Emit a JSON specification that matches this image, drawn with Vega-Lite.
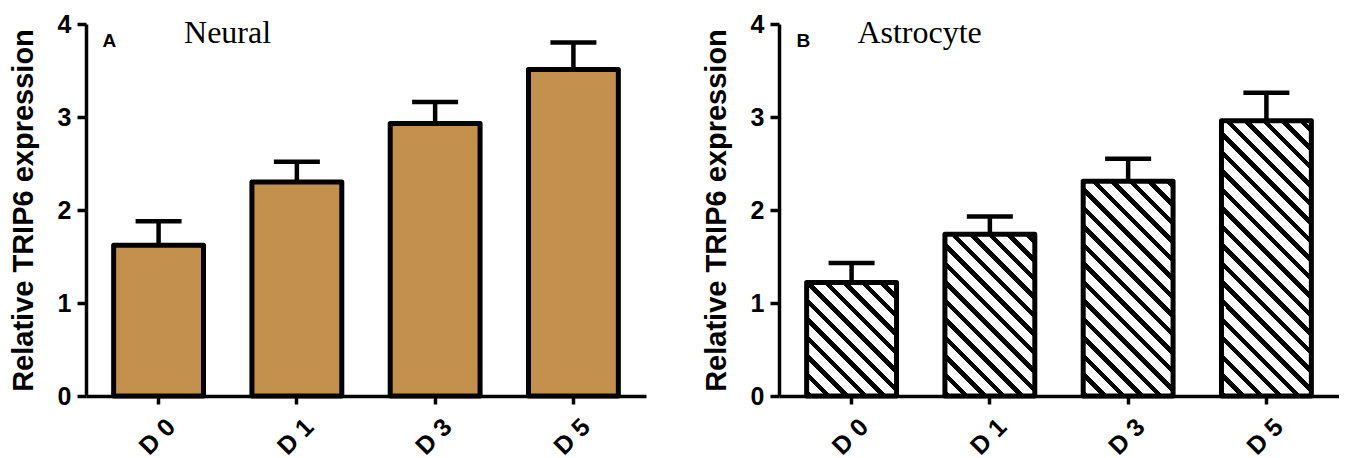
{
  "$schema": "https://vega.github.io/schema/vega-lite/v6.json",
  "padding": {"left": 9, "top": 12, "right": 0, "bottom": 0},
  "autosize": {"type": "pad"},
  "background": "white",
  "config": {
    "font": "Liberation Sans",
    "view": {"stroke": null},
    "axis": {"domainColor": "black", "domainWidth": 3.5, "tickColor": "black", "tickWidth": 3.5, "labelColor": "black", "labelFont": "Liberation Sans", "labelFontWeight": "bold", "titleFont": "Liberation Sans", "titleFontWeight": "bold", "titleColor": "black", "grid": false},
    "axisY": {"labelFontSize": 25, "tickSize": 9, "labelPadding": 6, "titleFontSize": 29, "titlePadding": 19, "format": "d"},
    "axisX": {"labelFontSize": 25, "labelAngle": -45, "tickSize": 8, "labelPadding": 10, "labelOffset": 4}
  },
  "datasets": {
    "neural": [
      {"day": "D 0", "mean": 1.62, "upper": 1.88},
      {"day": "D 1", "mean": 2.30, "upper": 2.52},
      {"day": "D 3", "mean": 2.93, "upper": 3.16},
      {"day": "D 5", "mean": 3.51, "upper": 3.80}
    ],
    "astro": [
      {"day": "D 0", "mean": 1.22, "upper": 1.43},
      {"day": "D 1", "mean": 1.74, "upper": 1.93},
      {"day": "D 3", "mean": 2.31, "upper": 2.55},
      {"day": "D 5", "mean": 2.96, "upper": 3.26}
    ]
  },
  "bounds": "flush",
  "spacing": 133,
  "hconcat": [
    {
      "width": 560,
      "height": 372,
      "data": {"name": "neural"},
      "encoding": {
        "x": {"field": "day", "type": "nominal", "sort": null, "scale": {"paddingInner": 0.35, "paddingOuter": 0.2}, "axis": {"title": null}}
      },
      "layer": [
        {
          "mark": {"type": "rule", "color": "black", "strokeWidth": 4.5},
          "encoding": {
            "y": {"field": "mean", "type": "quantitative", "title": "Relative TRIP6 expression", "scale": {"domain": [0, 4]}},
            "y2": {"field": "upper"}
          }
        },
        {
          "mark": {"type": "tick", "color": "black", "size": 46, "thickness": 4.5, "opacity": 1},
          "encoding": {
            "y": {"field": "upper", "type": "quantitative", "title": "Relative TRIP6 expression"}
          }
        },
        {
          "mark": {"type": "bar", "fill": "#C4904E", "stroke": "black", "strokeWidth": 5, "strokeJoin": "round"},
          "encoding": {
            "y": {"field": "mean", "type": "quantitative", "title": "Relative TRIP6 expression", "scale": {"domain": [0, 4]}, "axis": {"values": [0, 1, 2, 3, 4], "format": "d", "labelFontSize": 25, "title": "Relative TRIP6 expression"}}
          }
        },
        {
          "data": {"values": [{}]},
          "mark": {"type": "text", "text": "A", "font": "Liberation Sans", "fontWeight": "bold", "fontSize": 19, "align": "left", "baseline": "middle", "dx": -56},
          "encoding": {"x": {"datum": "D 0"}, "y": {"datum": 3.82}}
        },
        {
          "data": {"values": [{}]},
          "mark": {"type": "text", "text": "Neural", "font": "Liberation Serif", "fontSize": 32, "align": "center", "baseline": "alphabetic", "dx": 69},
          "encoding": {"x": {"datum": "D 0"}, "y": {"datum": 3.795}}
        }
      ]
    },
    {
      "width": 560,
      "height": 372,
      "data": {"name": "astro"},
      "encoding": {
        "x": {"field": "day", "type": "nominal", "sort": null, "scale": {"paddingInner": 0.35, "paddingOuter": 0.2}, "axis": {"title": null}}
      },
      "layer": [
        {
          "mark": {"type": "rule", "color": "black", "strokeWidth": 4.5},
          "encoding": {
            "y": {"field": "mean", "type": "quantitative", "title": "Relative TRIP6 expression", "scale": {"domain": [0, 4]}},
            "y2": {"field": "upper"}
          }
        },
        {
          "mark": {"type": "tick", "color": "black", "size": 46, "thickness": 4.5, "opacity": 1},
          "encoding": {
            "y": {"field": "upper", "type": "quantitative", "title": "Relative TRIP6 expression"}
          }
        },
        {
          "mark": {"type": "bar", "stroke": "black", "strokeWidth": 5, "strokeJoin": "round"},
          "encoding": {
            "y": {"field": "mean", "type": "quantitative", "title": "Relative TRIP6 expression", "scale": {"domain": [0, 4]}, "axis": {"values": [0, 1, 2, 3, 4], "format": "d", "labelFontSize": 25, "title": "Relative TRIP6 expression"}},
            "fill": {
              "condition": [
                {"test": "datum.day === 'D 0'", "value": {"gradient": "linear", "x1": 0, "y1": 1, "x2": 0.8726, "y2": -0.1017, "stops": [
                  {"offset": 0, "color": "#000"}, {"offset": 0.032, "color": "#000"}, {"offset": 0.032, "color": "#fff"},
                  {"offset": 0.091, "color": "#fff"}, {"offset": 0.091, "color": "#000"}, {"offset": 0.123, "color": "#000"}, {"offset": 0.123, "color": "#fff"},
                  {"offset": 0.182, "color": "#fff"}, {"offset": 0.182, "color": "#000"}, {"offset": 0.214, "color": "#000"}, {"offset": 0.214, "color": "#fff"},
                  {"offset": 0.273, "color": "#fff"}, {"offset": 0.273, "color": "#000"}, {"offset": 0.305, "color": "#000"}, {"offset": 0.305, "color": "#fff"},
                  {"offset": 0.364, "color": "#fff"}, {"offset": 0.364, "color": "#000"}, {"offset": 0.396, "color": "#000"}, {"offset": 0.396, "color": "#fff"},
                  {"offset": 0.455, "color": "#fff"}, {"offset": 0.455, "color": "#000"}, {"offset": 0.487, "color": "#000"}, {"offset": 0.487, "color": "#fff"},
                  {"offset": 0.546, "color": "#fff"}, {"offset": 0.546, "color": "#000"}, {"offset": 0.578, "color": "#000"}, {"offset": 0.578, "color": "#fff"},
                  {"offset": 0.637, "color": "#fff"}, {"offset": 0.637, "color": "#000"}, {"offset": 0.669, "color": "#000"}, {"offset": 0.669, "color": "#fff"},
                  {"offset": 0.728, "color": "#fff"}, {"offset": 0.728, "color": "#000"}, {"offset": 0.760, "color": "#000"}, {"offset": 0.760, "color": "#fff"},
                  {"offset": 0.819, "color": "#fff"}, {"offset": 0.819, "color": "#000"}, {"offset": 0.851, "color": "#000"}, {"offset": 0.851, "color": "#fff"},
                  {"offset": 0.910, "color": "#fff"}, {"offset": 0.910, "color": "#000"}, {"offset": 0.942, "color": "#000"}, {"offset": 0.942, "color": "#fff"}
                ]}},
                {"test": "datum.day === 'D 1'", "value": {"gradient": "linear", "x1": 0, "y1": 1, "x2": 0.6611, "y2": -0.1885, "stops": [
                  {"offset": 0, "color": "#000"}, {"offset": 0.0258, "color": "#000"}, {"offset": 0.0258, "color": "#fff"},
                  {"offset": 0.0735, "color": "#fff"}, {"offset": 0.0735, "color": "#000"}, {"offset": 0.0993, "color": "#000"}, {"offset": 0.0993, "color": "#fff"},
                  {"offset": 0.1469, "color": "#fff"}, {"offset": 0.1469, "color": "#000"}, {"offset": 0.1727, "color": "#000"}, {"offset": 0.1727, "color": "#fff"},
                  {"offset": 0.2204, "color": "#fff"}, {"offset": 0.2204, "color": "#000"}, {"offset": 0.2462, "color": "#000"}, {"offset": 0.2462, "color": "#fff"},
                  {"offset": 0.2939, "color": "#fff"}, {"offset": 0.2939, "color": "#000"}, {"offset": 0.3197, "color": "#000"}, {"offset": 0.3197, "color": "#fff"},
                  {"offset": 0.3674, "color": "#fff"}, {"offset": 0.3674, "color": "#000"}, {"offset": 0.3932, "color": "#000"}, {"offset": 0.3932, "color": "#fff"},
                  {"offset": 0.4408, "color": "#fff"}, {"offset": 0.4408, "color": "#000"}, {"offset": 0.4666, "color": "#000"}, {"offset": 0.4666, "color": "#fff"},
                  {"offset": 0.5143, "color": "#fff"}, {"offset": 0.5143, "color": "#000"}, {"offset": 0.5401, "color": "#000"}, {"offset": 0.5401, "color": "#fff"},
                  {"offset": 0.5878, "color": "#fff"}, {"offset": 0.5878, "color": "#000"}, {"offset": 0.6136, "color": "#000"}, {"offset": 0.6136, "color": "#fff"},
                  {"offset": 0.6612, "color": "#fff"}, {"offset": 0.6612, "color": "#000"}, {"offset": 0.6870, "color": "#000"}, {"offset": 0.6870, "color": "#fff"},
                  {"offset": 0.7347, "color": "#fff"}, {"offset": 0.7347, "color": "#000"}, {"offset": 0.7605, "color": "#000"}, {"offset": 0.7605, "color": "#fff"},
                  {"offset": 0.8082, "color": "#fff"}, {"offset": 0.8082, "color": "#000"}, {"offset": 0.8340, "color": "#000"}, {"offset": 0.8340, "color": "#fff"},
                  {"offset": 0.8816, "color": "#fff"}, {"offset": 0.8816, "color": "#000"}, {"offset": 0.9074, "color": "#000"}, {"offset": 0.9074, "color": "#fff"},
                  {"offset": 0.9551, "color": "#fff"}, {"offset": 0.9551, "color": "#000"}, {"offset": 0.9809, "color": "#000"}, {"offset": 0.9809, "color": "#fff"}
                ]}},
                {"test": "datum.day === 'D 3'", "value": {"gradient": "linear", "x1": 0, "y1": 1, "x2": 0.5052, "y2": -0.2071, "stops": [
                  {"offset": 0, "color": "#000"}, {"offset": 0.0213, "color": "#000"}, {"offset": 0.0213, "color": "#fff"},
                  {"offset": 0.0607, "color": "#fff"}, {"offset": 0.0607, "color": "#000"}, {"offset": 0.0821, "color": "#000"}, {"offset": 0.0821, "color": "#fff"},
                  {"offset": 0.1215, "color": "#fff"}, {"offset": 0.1215, "color": "#000"}, {"offset": 0.1428, "color": "#000"}, {"offset": 0.1428, "color": "#fff"},
                  {"offset": 0.1822, "color": "#fff"}, {"offset": 0.1822, "color": "#000"}, {"offset": 0.2036, "color": "#000"}, {"offset": 0.2036, "color": "#fff"},
                  {"offset": 0.2430, "color": "#fff"}, {"offset": 0.2430, "color": "#000"}, {"offset": 0.2643, "color": "#000"}, {"offset": 0.2643, "color": "#fff"},
                  {"offset": 0.3037, "color": "#fff"}, {"offset": 0.3037, "color": "#000"}, {"offset": 0.3250, "color": "#000"}, {"offset": 0.3250, "color": "#fff"},
                  {"offset": 0.3644, "color": "#fff"}, {"offset": 0.3644, "color": "#000"}, {"offset": 0.3858, "color": "#000"}, {"offset": 0.3858, "color": "#fff"},
                  {"offset": 0.4252, "color": "#fff"}, {"offset": 0.4252, "color": "#000"}, {"offset": 0.4465, "color": "#000"}, {"offset": 0.4465, "color": "#fff"},
                  {"offset": 0.4859, "color": "#fff"}, {"offset": 0.4859, "color": "#000"}, {"offset": 0.5073, "color": "#000"}, {"offset": 0.5073, "color": "#fff"},
                  {"offset": 0.5467, "color": "#fff"}, {"offset": 0.5467, "color": "#000"}, {"offset": 0.5680, "color": "#000"}, {"offset": 0.5680, "color": "#fff"},
                  {"offset": 0.6074, "color": "#fff"}, {"offset": 0.6074, "color": "#000"}, {"offset": 0.6287, "color": "#000"}, {"offset": 0.6287, "color": "#fff"},
                  {"offset": 0.6681, "color": "#fff"}, {"offset": 0.6681, "color": "#000"}, {"offset": 0.6895, "color": "#000"}, {"offset": 0.6895, "color": "#fff"},
                  {"offset": 0.7289, "color": "#fff"}, {"offset": 0.7289, "color": "#000"}, {"offset": 0.7502, "color": "#000"}, {"offset": 0.7502, "color": "#fff"},
                  {"offset": 0.7896, "color": "#fff"}, {"offset": 0.7896, "color": "#000"}, {"offset": 0.8110, "color": "#000"}, {"offset": 0.8110, "color": "#fff"},
                  {"offset": 0.8504, "color": "#fff"}, {"offset": 0.8504, "color": "#000"}, {"offset": 0.8717, "color": "#000"}, {"offset": 0.8717, "color": "#fff"},
                  {"offset": 0.9111, "color": "#fff"}, {"offset": 0.9111, "color": "#000"}, {"offset": 0.9324, "color": "#000"}, {"offset": 0.9324, "color": "#fff"},
                  {"offset": 0.9718, "color": "#fff"}, {"offset": 0.9718, "color": "#000"}, {"offset": 0.9932, "color": "#000"}, {"offset": 0.9932, "color": "#fff"}
                ]}}
              ],
              "value": {"gradient": "linear", "x1": 0, "y1": 1, "x2": 0.3914, "y2": -0.1987, "stops": [
                {"offset": 0, "color": "#000"}, {"offset": 0.0178, "color": "#000"}, {"offset": 0.0178, "color": "#fff"},
                {"offset": 0.0507, "color": "#fff"}, {"offset": 0.0507, "color": "#000"}, {"offset": 0.0685, "color": "#000"}, {"offset": 0.0685, "color": "#fff"},
                {"offset": 0.1014, "color": "#fff"}, {"offset": 0.1014, "color": "#000"}, {"offset": 0.1192, "color": "#000"}, {"offset": 0.1192, "color": "#fff"},
                {"offset": 0.1521, "color": "#fff"}, {"offset": 0.1521, "color": "#000"}, {"offset": 0.1699, "color": "#000"}, {"offset": 0.1699, "color": "#fff"},
                {"offset": 0.2027, "color": "#fff"}, {"offset": 0.2027, "color": "#000"}, {"offset": 0.2205, "color": "#000"}, {"offset": 0.2205, "color": "#fff"},
                {"offset": 0.2534, "color": "#fff"}, {"offset": 0.2534, "color": "#000"}, {"offset": 0.2712, "color": "#000"}, {"offset": 0.2712, "color": "#fff"},
                {"offset": 0.3041, "color": "#fff"}, {"offset": 0.3041, "color": "#000"}, {"offset": 0.3219, "color": "#000"}, {"offset": 0.3219, "color": "#fff"},
                {"offset": 0.3548, "color": "#fff"}, {"offset": 0.3548, "color": "#000"}, {"offset": 0.3726, "color": "#000"}, {"offset": 0.3726, "color": "#fff"},
                {"offset": 0.4055, "color": "#fff"}, {"offset": 0.4055, "color": "#000"}, {"offset": 0.4233, "color": "#000"}, {"offset": 0.4233, "color": "#fff"},
                {"offset": 0.4562, "color": "#fff"}, {"offset": 0.4562, "color": "#000"}, {"offset": 0.4740, "color": "#000"}, {"offset": 0.4740, "color": "#fff"},
                {"offset": 0.5068, "color": "#fff"}, {"offset": 0.5068, "color": "#000"}, {"offset": 0.5246, "color": "#000"}, {"offset": 0.5246, "color": "#fff"},
                {"offset": 0.5575, "color": "#fff"}, {"offset": 0.5575, "color": "#000"}, {"offset": 0.5753, "color": "#000"}, {"offset": 0.5753, "color": "#fff"},
                {"offset": 0.6082, "color": "#fff"}, {"offset": 0.6082, "color": "#000"}, {"offset": 0.6260, "color": "#000"}, {"offset": 0.6260, "color": "#fff"},
                {"offset": 0.6589, "color": "#fff"}, {"offset": 0.6589, "color": "#000"}, {"offset": 0.6767, "color": "#000"}, {"offset": 0.6767, "color": "#fff"},
                {"offset": 0.7096, "color": "#fff"}, {"offset": 0.7096, "color": "#000"}, {"offset": 0.7274, "color": "#000"}, {"offset": 0.7274, "color": "#fff"},
                {"offset": 0.7603, "color": "#fff"}, {"offset": 0.7603, "color": "#000"}, {"offset": 0.7781, "color": "#000"}, {"offset": 0.7781, "color": "#fff"},
                {"offset": 0.8110, "color": "#fff"}, {"offset": 0.8110, "color": "#000"}, {"offset": 0.8288, "color": "#000"}, {"offset": 0.8288, "color": "#fff"},
                {"offset": 0.8616, "color": "#fff"}, {"offset": 0.8616, "color": "#000"}, {"offset": 0.8794, "color": "#000"}, {"offset": 0.8794, "color": "#fff"},
                {"offset": 0.9123, "color": "#fff"}, {"offset": 0.9123, "color": "#000"}, {"offset": 0.9301, "color": "#000"}, {"offset": 0.9301, "color": "#fff"},
                {"offset": 0.9630, "color": "#fff"}, {"offset": 0.9630, "color": "#000"}, {"offset": 0.9808, "color": "#000"}, {"offset": 0.9808, "color": "#fff"}
              ]}
            }
          }
        },
        {
          "data": {"values": [{}]},
          "mark": {"type": "text", "text": "B", "font": "Liberation Sans", "fontWeight": "bold", "fontSize": 19, "align": "left", "baseline": "middle", "dx": -55},
          "encoding": {"x": {"datum": "D 0"}, "y": {"datum": 3.82}}
        },
        {
          "data": {"values": [{}]},
          "mark": {"type": "text", "text": "Astrocyte", "font": "Liberation Serif", "fontSize": 32, "align": "center", "baseline": "alphabetic", "dx": 68},
          "encoding": {"x": {"datum": "D 0"}, "y": {"datum": 3.795}}
        }
      ]
    }
  ]
}
